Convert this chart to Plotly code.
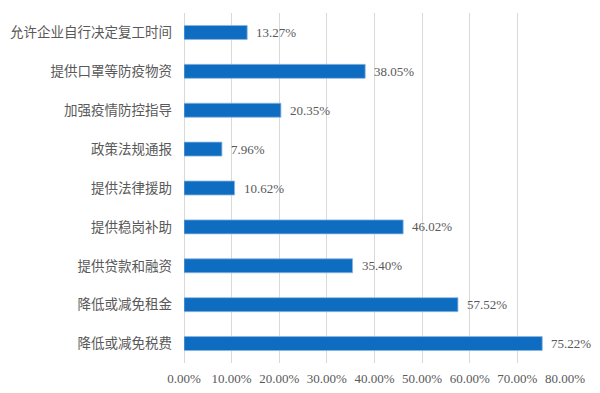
import plotly.graph_objects as go

categories = ["允许企业自行决定复工时间", "提供口罩等防疫物资", "加强疫情防控指导", "政策法规通报",
              "提供法律援助", "提供稳岗补助", "提供贷款和融资", "降低或减免租金", "降低或减免税费"]
values = [13.27, 38.05, 20.35, 7.96, 10.62, 46.02, 35.40, 57.52, 75.22]
tick_vals = [0, 10, 20, 30, 40, 50, 60, 70, 80]
tick_text = ["0.00%", "10.00%", "20.00%", "30.00%", "40.00%", "50.00%", "60.00%", "70.00%", "80.00%"]
labels = [f"{v:.2f}%" for v in values]

num_font = dict(family="Liberation Serif, Noto Sans CJK SC", size=13, color="#595959")

fig = go.Figure(go.Bar(
    x=values, y=categories, orientation="h",
    marker=dict(color="#0E6DC0", line=dict(color="#8DB8E2", width=0.8)),
    hoverinfo="x+y",
))

for v, c, t in zip(values, categories, labels):
    fig.add_annotation(x=v, y=c, text=t, showarrow=False, xanchor="left", xshift=7,
                       font=num_font)

fig.update_layout(
    width=600, height=393,
    margin=dict(l=184, r=35, t=13, b=30, autoexpand=False),
    plot_bgcolor="white", paper_bgcolor="white",
    bargap=0.64, showlegend=False,
    xaxis=dict(range=[0, 80], tickvals=tick_vals, ticktext=tick_text, automargin=False,
               showgrid=True, gridcolor="#D9D9D9", gridwidth=1,
               zeroline=True, zerolinecolor="#D9D9D9", zerolinewidth=1,
               showline=False, tickfont=num_font, fixedrange=True, ticklabelstandoff=6),
    yaxis=dict(autorange="reversed", showgrid=False, zeroline=False, showline=False,
               ticks="", ticklabelstandoff=11, automargin=False, fixedrange=True,
               tickfont=dict(family="Noto Sans CJK SC", size=13.5, color="#595959")),
)

fig.write_html("out.html", config={"displayModeBar": False},
               post_script="document.body.style.margin='0';document.body.style.overflow='hidden';")
